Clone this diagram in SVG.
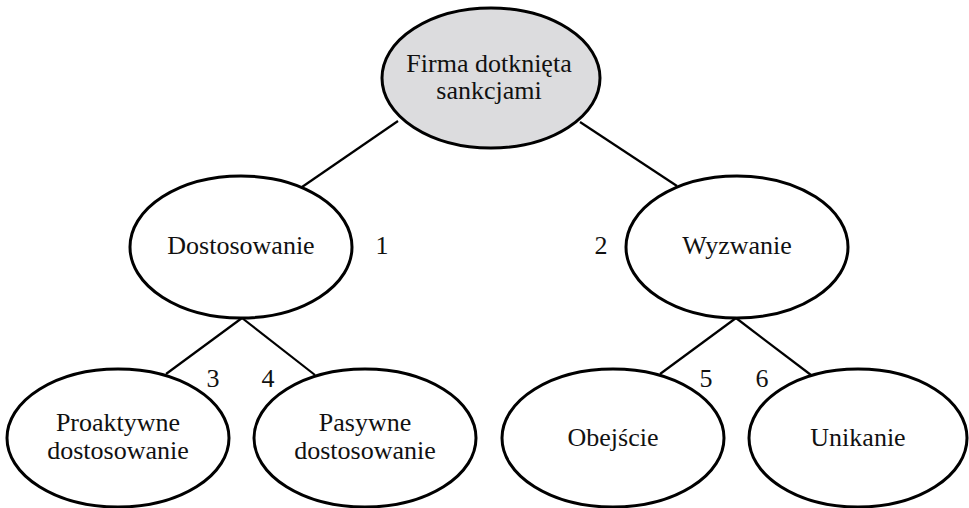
<svg xmlns="http://www.w3.org/2000/svg" width="969" height="508" viewBox="0 0 969 508">
<style>
.n{fill:#fff;stroke:#000;stroke-width:3}
.root{fill:#dcdcde}
text{font-family:'Liberation Serif','Times New Roman','DejaVu Serif',serif;font-size:26px;fill:#111;text-anchor:middle}
.c line{stroke:#000;stroke-width:2.2}
</style>
<rect width="969" height="508" fill="#fff"/>
<g class="c" id="connectors">
<line x1="398" y1="121" x2="302" y2="187"/>
<line x1="580" y1="122" x2="677" y2="186"/>
<line x1="242" y1="318" x2="166" y2="374"/>
<line x1="242" y1="318" x2="315" y2="375"/>
<line x1="736" y1="318" x2="660" y2="374"/>
<line x1="736" y1="318" x2="811" y2="375"/>
</g>
<g id="root">
<ellipse class="n root" cx="491" cy="78" rx="109" ry="70"/>
<text x="489" y="72">Firma dotknięta</text>
<text x="489" y="99">sankcjami</text>
</g>
<g id="dostosowanie">
<ellipse class="n" cx="241" cy="247" rx="111" ry="71"/>
<text x="241" y="254">Dostosowanie</text>
</g>
<g id="wyzwanie">
<ellipse class="n" cx="737" cy="247" rx="111" ry="71"/>
<text x="737" y="254">Wyzwanie</text>
</g>
<g id="proaktywne">
<ellipse class="n" cx="118" cy="438" rx="111" ry="69"/>
<text x="118" y="431">Proaktywne</text>
<text x="118" y="459">dostosowanie</text>
</g>
<g id="pasywne">
<ellipse class="n" cx="365" cy="438" rx="111" ry="69"/>
<text x="365" y="431">Pasywne</text>
<text x="365" y="459">dostosowanie</text>
</g>
<g id="obejscie">
<ellipse class="n" cx="613" cy="438" rx="111" ry="69"/>
<text x="613" y="446">Obejście</text>
</g>
<g id="unikanie">
<ellipse class="n" cx="858" cy="438" rx="109" ry="69"/>
<text x="858" y="446">Unikanie</text>
</g>
<g id="numbers">
<text x="382" y="254">1</text>
<text x="601" y="254">2</text>
<text x="213" y="387">3</text>
<text x="268" y="387">4</text>
<text x="706" y="387">5</text>
<text x="762" y="387">6</text>
</g>
</svg>
